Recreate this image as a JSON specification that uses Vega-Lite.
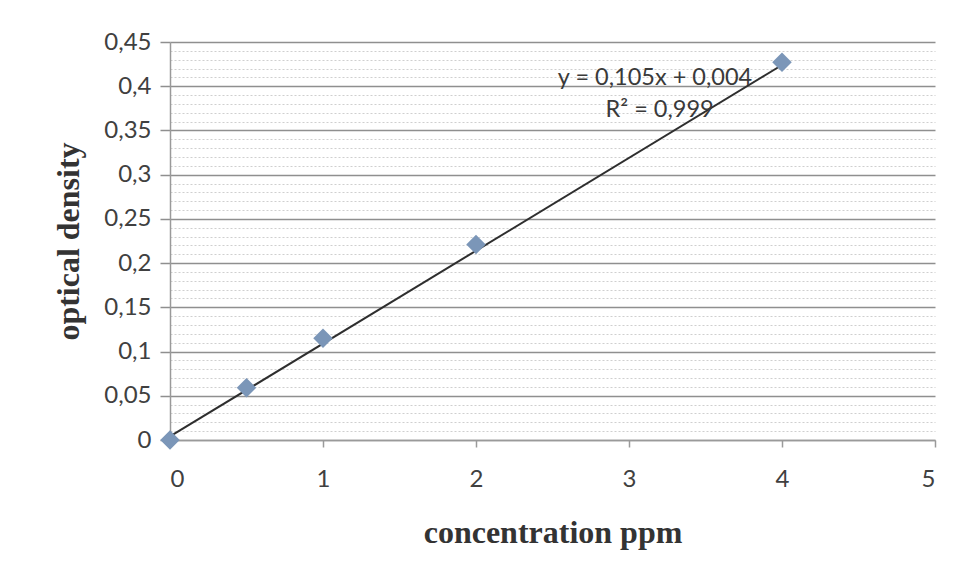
{
  "$schema": "https://vega.github.io/schema/vega-lite/v6.json",
  "width": 765,
  "height": 398,
  "autosize": {"type": "none"},
  "padding": {"left": 170, "top": 42, "right": 22, "bottom": 141},
  "background": "white",
  "config": {
    "view": {"stroke": null},
    "axis": {"labelFont": "Lato", "labelFontSize": 24, "labelColor": "#404040", "titleFont": "Liberation Serif", "titleFontSize": 32, "titleFontWeight": "bold", "titleColor": "#333333"}
  },
  "datasets": {
    "points": [
      {"conc": 0, "od": 0},
      {"conc": 0.5, "od": 0.059},
      {"conc": 1, "od": 0.115},
      {"conc": 2, "od": 0.221},
      {"conc": 4, "od": 0.427}
    ],
    "trend": [
      {"conc": 0, "od": 0.004},
      {"conc": 4, "od": 0.424}
    ],
    "labels": [
      {"conc": 3.17, "od": 0.4095, "text": "y = 0,105x + 0,004"},
      {"conc": 3.2, "od": 0.373, "text": "R² = 0,999"}
    ]
  },
  "resolve": {"axis": {"y": "independent", "x": "independent"}},
  "layer": [
    {
      "data": {"name": "points"},
      "mark": {"type": "point", "opacity": 0},
      "encoding": {
        "x": {"field": "conc", "type": "quantitative", "scale": {"domain": [0, 5], "nice": false},
          "axis": {"orient": "bottom", "labels": false, "ticks": false, "domain": false, "grid": false, "title": null}},
        "y": {"field": "od", "type": "quantitative", "scale": {"domain": [0, 0.45], "nice": false, "zero": true},
          "axis": {"orient": "left", "values": [0.01,0.02,0.03,0.04,0.06,0.07,0.08,0.09,0.11,0.12,0.13,0.14,0.16,0.17,0.18,0.19,0.21,0.22,0.23,0.24,0.26,0.27,0.28,0.29,0.31,0.32,0.33,0.34,0.36,0.37,0.38,0.39,0.41,0.42,0.43,0.44],
            "labels": false, "ticks": false, "domain": false, "title": null,
            "grid": true, "gridColor": "#cfcfcf", "gridDash": [2, 2], "gridWidth": 1}}
      }
    },
    {
      "data": {"name": "trend"},
      "mark": {"type": "line", "color": "#2e2e2e", "strokeWidth": 2},
      "encoding": {
        "x": {"field": "conc", "type": "quantitative",
          "axis": {"orient": "bottom", "values": [0,1,2,3,4,5], "grid": false, "domainColor": "#9a9a9a", "domainWidth": 1.5, "tickColor": "#9a9a9a", "tickSize": 7, "tickWidth": 1.5, "labelPadding": 20,
            "labelExpr": "format(datum.value, 'd')", "title": "concentration ppm", "titlePadding": 26}},
        "y": {"field": "od", "type": "quantitative",
          "axis": {"orient": "left", "values": [0,0.05,0.1,0.15,0.2,0.25,0.3,0.35,0.4,0.45],
            "grid": true, "gridColor": "#8f8f8f", "gridWidth": 1.5, "domainColor": "#9a9a9a", "domainWidth": 1.5,
            "tickColor": "#8f8f8f", "tickSize": 10, "tickWidth": 1.5, "labelPadding": 9,
            "labelExpr": "replace(format(datum.value, '.2~f'), '.', ',')",
            "title": "optical density", "titlePadding": 18}}
      }
    },
    {
      "data": {"name": "points"},
      "mark": {"type": "point", "shape": "diamond", "filled": true, "color": "#7b96b8", "size": 380, "opacity": 1},
      "encoding": {
        "x": {"field": "conc", "type": "quantitative", "axis": null},
        "y": {"field": "od", "type": "quantitative", "axis": null}
      }
    },
    {
      "data": {"name": "labels"},
      "mark": {"type": "text", "font": "Lato", "fontSize": 23.5, "color": "#3a3a3a", "align": "center", "baseline": "middle"},
      "encoding": {
        "x": {"field": "conc", "type": "quantitative", "axis": null},
        "y": {"field": "od", "type": "quantitative", "axis": null},
        "text": {"field": "text"}
      }
    }
  ]
}
